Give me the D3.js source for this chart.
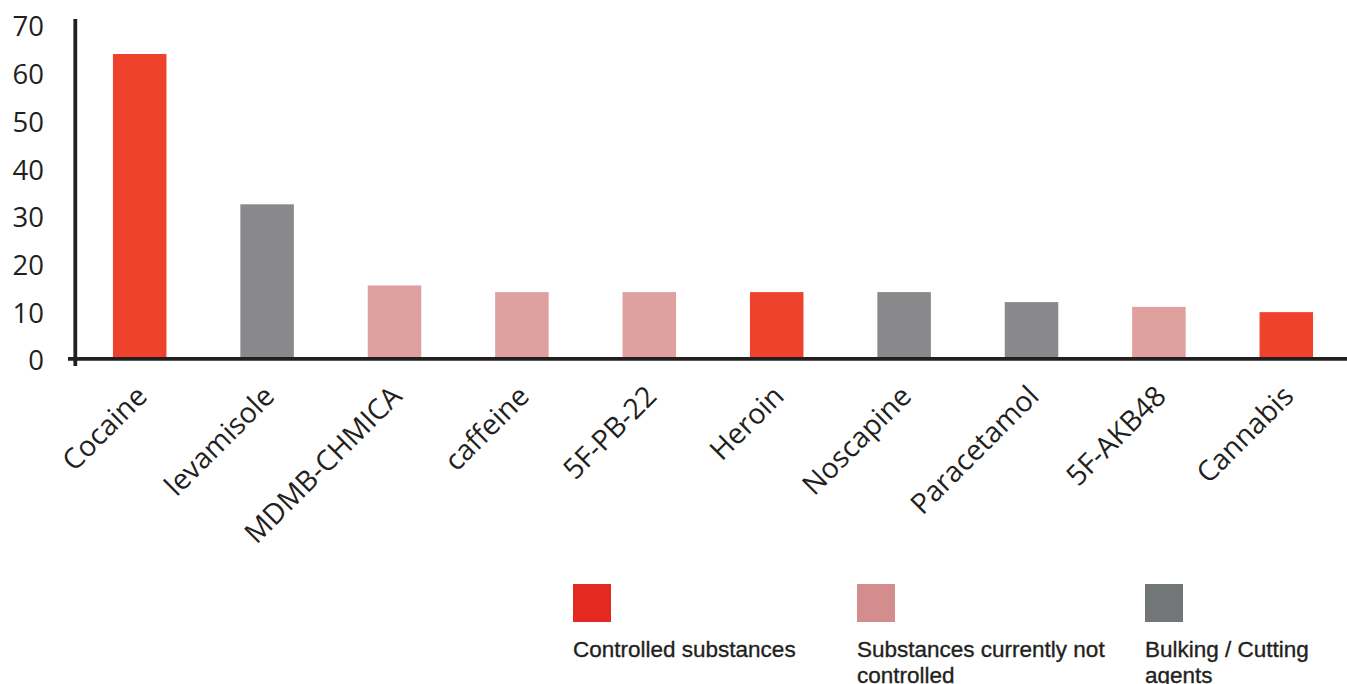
<!DOCTYPE html>
<html>
<head>
<meta charset="utf-8">
<script src="https://cdn.jsdelivr.net/npm/d3@7"></script>
<style>
  html, body { margin: 0; padding: 0; background: #fff; }
  svg { display: block; }
</style>
</head>
<body>
<svg id="chart" width="1347" height="684"></svg>
<script>
const categories = ["Cocaine", "levamisole", "MDMB-CHMICA", "caffeine", "5F-PB-22", "Heroin", "Noscapine", "Paracetamol", "5F-AKB48", "Cannabis"];
const values = [63.5, 32, 15, 13.6, 13.6, 13.6, 13.6, 11.5, 10.5, 9.4];
const groups = ["controlled", "bulking", "notcontrolled", "notcontrolled", "notcontrolled", "controlled", "bulking", "bulking", "notcontrolled", "controlled"];
const yTicks = [0, 10, 20, 30, 40, 50, 60, 70];
const legendKeys = ["controlled", "notcontrolled", "bulking"];
const legendLabels = [["Controlled substances"], ["Substances currently not", "controlled"], ["Bulking / Cutting", "agents"]];

const barColor = { controlled: "#ef422c", notcontrolled: "#dfa0a0", bulking: "#89898b" };
const legendColor = { controlled: "#e42a20", notcontrolled: "#d38d8c", bulking: "#737676" };

const svg = d3.select("#chart");

const x = d3.scaleBand().domain(categories).range([76, 1350]).paddingInner(0.58).paddingOuter(0.29);
const y = d3.scaleLinear().domain([0, 70]).range([357, 23]);

// bars
svg.append("g").selectAll("rect").data(categories).join("rect")
  .attr("x", d => x(d))
  .attr("width", x.bandwidth())
  .attr("y", (d, i) => y(values[i]))
  .attr("height", (d, i) => y(0) - y(values[i]))
  .attr("fill", (d, i) => barColor[groups[i]]);

// y axis
const yAxis = d3.axisLeft(y).tickValues(yTicks).tickSize(0).tickPadding(0);
const gy = svg.append("g").attr("transform", "translate(75,0)").call(yAxis);
gy.select(".domain").remove();
gy.selectAll("text")
  .attr("x", -31)
  .attr("dy", "0.36em")
  .attr("transform", "translate(0,3)")
  .style("font-family", "'Open Sans', sans-serif")
  .style("font-size", "27.5px")
  .style("fill", "#231f20");

// axis lines
svg.append("line").attr("x1", 75.3).attr("x2", 75.3).attr("y1", 19).attr("y2", 366)
  .attr("stroke", "#231f20").attr("stroke-width", 3.8);
svg.append("line").attr("x1", 68).attr("x2", 1347).attr("y1", 358.8).attr("y2", 358.8)
  .attr("stroke", "#231f20").attr("stroke-width", 3.8);

// x labels
svg.append("g").selectAll("text").data(categories).join("text")
  .attr("transform", d => `translate(${x(d) + x.bandwidth() / 2 + 9},398) rotate(-45)`)
  .attr("text-anchor", "end")
  .style("font-family", "'Open Sans', sans-serif")
  .style("font-size", "28.5px")
  .style("fill", "#231f20")
  .text(d => d);

// legend
const legendX = [573, 857, 1145];
const lg = svg.append("g").selectAll("g").data(legendKeys).join("g")
  .attr("transform", (d, i) => `translate(${legendX[i]},0)`);
lg.append("rect").attr("x", 0).attr("y", 584).attr("width", 38).attr("height", 38)
  .attr("fill", d => legendColor[d]);
lg.append("text")
  .style("font-family", "'Liberation Sans', Arial, sans-serif")
  .style("font-size", "22.5px")
  .style("fill", "#231f20")
  .attr("stroke", "#231f20").attr("stroke-width", 0.35)
  .selectAll("tspan").data((d, i) => legendLabels[i]).join("tspan")
  .attr("x", 0).attr("y", (d, j) => 657 + j * 26)
  .text(d => d);
</script>
</body>
</html>
